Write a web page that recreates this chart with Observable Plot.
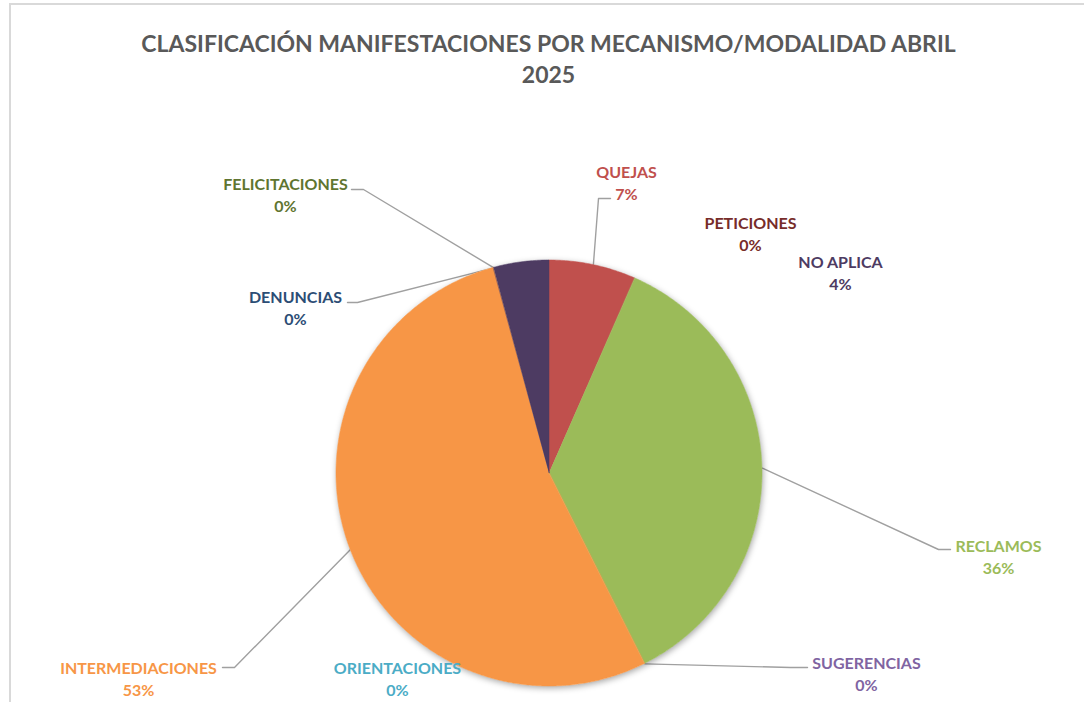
<!DOCTYPE html>
<html><head><meta charset="utf-8">
<script src="https://cdn.jsdelivr.net/npm/d3@7"></script>
<script src="https://cdn.jsdelivr.net/npm/@observablehq/plot@0.6"></script>
<style>
body{margin:0;background:#fff;}
#wrap{position:relative;width:1084px;height:702px;overflow:hidden;background:#fff;}
#border{position:absolute;left:9px;top:3px;width:1300px;height:900px;border:2px solid #D9D9D9;box-sizing:border-box;}
#chart{position:absolute;left:0;top:0;}
</style></head><body>
<div id="wrap"><div id="border"></div><div id="chart"></div></div>
<script>
// ---- data ----
const categories = ["QUEJAS","RECLAMOS","SUGERENCIAS","ORIENTACIONES","INTERMEDIACIONES","DENUNCIAS","PETICIONES","FELICITACIONES","NO APLICA"];
const values     = [6.6, 36.0, 0, 0, 53.2, 0, 0, 0, 4.2];
const colors     = ["#C0504D","#9BBB59","#8064A2","#4BACC6","#F79646","#2C4D75","#772C2A","#5F7530","#4D3B62"];
const titleLines = ["CLASIFICACIÓN MANIFESTACIONES POR MECANISMO/MODALIDAD ABRIL","2025"];

// ---- layout (pixel space) ----
const W = 1084, H = 702;
const pieGeom = {cx: 549, cy: 473, r: 213};
const titleLayout = {x: 548, y: [51, 82], size: 23};
const labelLayout = {
  "QUEJAS":           {x: 626, y: 177, leader: [[610,198],[598,198]]},
  "RECLAMOS":         {x: 998, y: 551, leader: [[950,549],[938,549]]},
  "SUGERENCIAS":      {x: 866, y: 668, leader: [[807,667],[790,667]]},
  "ORIENTACIONES":    {x: 397, y: 673, leader: null},
  "INTERMEDIACIONES": {x: 138, y: 673, leader: [[222,667],[234,667]]},
  "DENUNCIAS":        {x: 295, y: 302, leader: [[347,302],[357,302]]},
  "PETICIONES":       {x: 750, y: 228, leader: null},
  "FELICITACIONES":   {x: 285, y: 189, leader: [[351,189],[363,189]]},
  "NO APLICA":        {x: 840, y: 267, leader: null}
};
const lineGap = 22.5;
const labelSize = 16;
const fontFam = "Lato, 'Open Sans', sans-serif";

// ---- build ----
const total = d3.sum(values);
const arcs = d3.pie().sort(null).value((d, i) => values[i])(categories.map((c, i) => i));
const polar = (a, rr) => [pieGeom.cx + rr * Math.sin(a), pieGeom.cy - rr * Math.cos(a)];

// arc points (x1,y1) paired with the pie centre (x2,y2): the area between them is the wedge
function wedge(name, color, a0, a1) {
  const n = Math.max(2, Math.ceil((a1 - a0) / (Math.PI / 360)));
  const pts = [];
  for (let k = 0; k <= n; k++) {
    const [x, y] = polar(a0 + (a1 - a0) * k / n, pieGeom.r);
    pts.push({name, color, x1: x, y1: y, x2: pieGeom.cx, y2: pieGeom.cy});
  }
  return pts;
}

const slicePts = arcs
  .filter(a => values[a.data] > 0)
  .flatMap(a => wedge(categories[a.data], colors[a.data], a.startAngle, a.endAngle));
const shadowPts = wedge("all", "#ffffff", 0, 2 * Math.PI);

const leaderPts = [];
const labelRows = [];
arcs.forEach(a => {
  const i = a.data, name = categories[i], L = labelLayout[name];
  const mid = (a.startAngle + a.endAngle) / 2;
  if (L.leader) {
    L.leader.forEach(p => leaderPts.push({name, x: p[0], y: p[1]}));
    const [ex, ey] = polar(mid, pieGeom.r);
    leaderPts.push({name, x: ex, y: ey});
  }
  labelRows.push({text: name, x: L.x, y: L.y, color: colors[i]});
  labelRows.push({text: Math.round(values[i] / total * 100) + "%", x: L.x, y: L.y + lineGap, color: colors[i]});
});

const titleRows = titleLines.map((t, k) => ({text: t, x: titleLayout.x, y: titleLayout.y[k]}));

const chart = Plot.plot({
  width: W, height: H, margin: 0,
  x: {domain: [0, W], range: [0, W], axis: null},
  y: {domain: [0, H], range: [0, H], axis: null},
  color: {type: "identity"},
  style: {background: "transparent", overflow: "visible"},
  marks: [
    Plot.line(leaderPts, {x: "x", y: "y", z: "name", stroke: "#A0A0A0", strokeWidth: 1.4, curve: "linear"}),
    Plot.area(shadowPts, {x1: "x1", y1: "y1", x2: "x2", y2: "y2", fill: "#ffffff", curve: "linear"}),
    Plot.area(slicePts, {x1: "x1", y1: "y1", x2: "x2", y2: "y2", z: "name", fill: "color", stroke: "color", strokeWidth: 0.5, curve: "linear"}),
    Plot.text(labelRows, {x: "x", y: "y", text: "text", fill: "color", fontSize: labelSize, fontWeight: "bold", fontFamily: fontFam, lineAnchor: "bottom", textAnchor: "middle"}),
    Plot.text(titleRows, {x: "x", y: "y", text: "text", fill: "#595959", fontSize: titleLayout.size, fontWeight: "bold", fontFamily: fontFam, lineAnchor: "bottom", textAnchor: "middle"})
  ]
});
// soft outer shadow under the pie (first area group)
const areaGroups = chart.querySelectorAll('g[aria-label="area"]');
if (areaGroups.length) areaGroups[0].style.filter = "drop-shadow(1px 2px 3px rgba(0,0,0,0.35))";
document.getElementById("chart").appendChild(chart);
</script>
</body></html>
